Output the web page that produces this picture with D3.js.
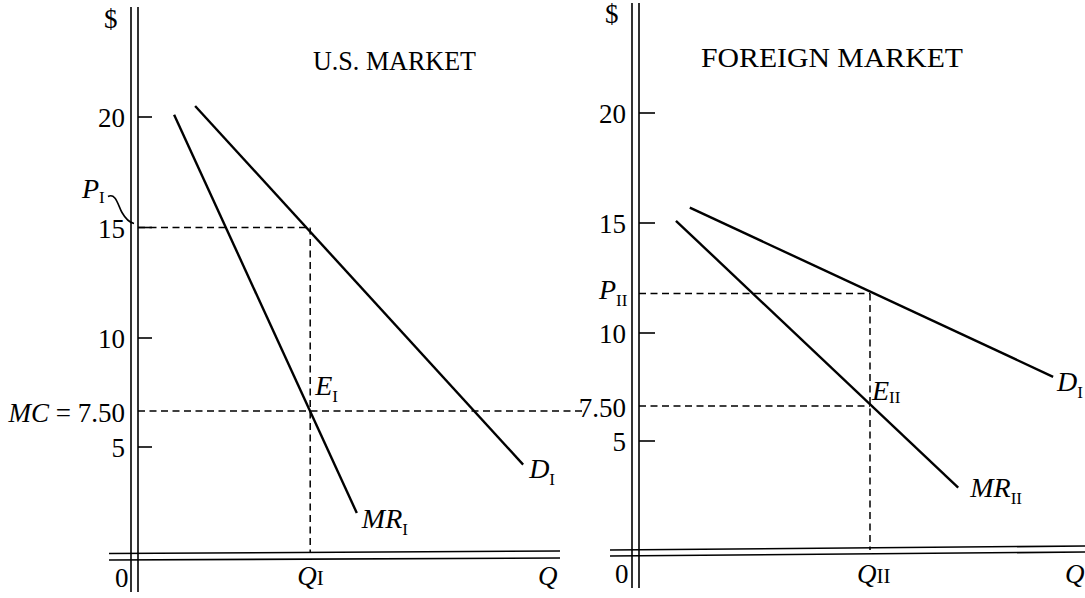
<!DOCTYPE html>
<html>
<head>
<meta charset="utf-8">
<script src="https://cdn.jsdelivr.net/npm/d3@7"></script>
<style>
  body { margin: 0; background: #fff; }
  svg { display: block; background: #fff; font-family: "Liberation Serif", "Times New Roman", serif; }
  .curve { fill: none; stroke: #000; stroke-width: 2.4; }
  .guide { fill: none; stroke: #000; stroke-width: 1.5; stroke-dasharray: 7 4.5; }
  .axis-line { stroke: #000; stroke-width: 1.6; fill: none; }
  text { fill: #000; }
</style>
</head>
<body>
<svg id="chart" width="1085" height="598"></svg>
<script>
// price ticks shared by both $ axes
const priceTicks = [5, 10, 15, 20];
const marginalCost = 7.5;

// U.S. market (I)
const usDemand = [{q: 1.36, p: 20.5}, {q: 9.17, p: 4.2}];
const usMarginalRevenue = [{q: 0.86, p: 20.1}, {q: 5.21, p: 2.0}];
const usQuantity = 4.1;
const usPrice = 15;

// foreign market (II)
const foreignDemand = [{q: 1.21, p: 15.7}, {q: 9.86, p: 8.5}];
const foreignMarginalRevenue = [{q: 0.88, p: 15.1}, {q: 7.6, p: 2.9}];
const foreignQuantity = 5.5;
const foreignPrice = 11.8;

class MarketPanel {

  /**
   * One market diagram: double axes, D and MR curves, dashed guides
   * @param {Object} _config layout
   * @param {Object} _data curves and equilibrium
   */
  constructor(_config, _data) {
    this.config = _config;
    this.data = _data;
    this.initVis();
  }

  initVis() {
    let vis = this;
    const c = vis.config;

    vis.g = d3.select('#chart').append('g').attr('class', 'panel');

    // the figure is not drawn to scale, so the price axis is piecewise
    vis.yScale = d3.scaleLinear()
      .domain([0, 5, 7.5, 10, 20])
      .range(c.yRange);

    vis.xScale = d3.scaleLinear()
      .domain([0, 10])
      .range(c.xRange);

    // double vertical axis
    [c.outerX, c.innerX].forEach(x => {
      vis.g.append('line').attr('class', 'axis-line')
        .attr('x1', x).attr('x2', x)
        .attr('y1', c.axisTop).attr('y2', c.axisBottom);
    });

    // double horizontal axis (a bit tilted in the scan)
    c.xAxisLines.forEach(l => {
      vis.g.append('line').attr('class', 'axis-line')
        .attr('x1', c.xAxisLeft).attr('x2', c.xAxisRight)
        .attr('y1', l[0]).attr('y2', l[1]);
    });

    // ticks + labels
    vis.g.selectAll('.tick')
      .data(priceTicks)
      .join('line')
        .attr('class', 'axis-line tick')
        .attr('x1', c.innerX).attr('x2', c.innerX + c.tickLen)
        .attr('y1', d => vis.yScale(d)).attr('y2', d => vis.yScale(d));

    vis.g.selectAll('.tick-label')
      .data(priceTicks)
      .join('text')
        .attr('class', 'tick-label')
        .attr('x', c.outerX - 6)
        .attr('y', d => vis.yScale(d) + 10)
        .attr('text-anchor', 'end')
        .attr('font-size', 27)
        .text(d => d);

    // dashed guides: price level, quantity, and MC line
    const d = vis.data;
    const xq = vis.xScale(d.quantity);
    const yp = vis.yScale(d.price);
    const ymc = vis.yScale(marginalCost);

    vis.g.append('line').attr('class', 'guide')
      .attr('x1', vis.xScale(0)).attr('x2', xq)
      .attr('y1', yp).attr('y2', yp);
    vis.g.append('line').attr('class', 'guide')
      .attr('x1', xq).attr('x2', xq)
      .attr('y1', yp).attr('y2', c.guideBottom);
    vis.g.append('line').attr('class', 'guide')
      .attr('x1', vis.xScale(0)).attr('x2', c.mcEnd != null ? c.mcEnd : xq)
      .attr('y1', ymc).attr('y2', ymc);

    // demand and marginal revenue
    const line = d3.line().x(p => vis.xScale(p.q)).y(p => vis.yScale(p.p));
    vis.g.append('path').attr('class', 'curve').attr('d', line(d.demand));
    vis.g.append('path').attr('class', 'curve').attr('d', line(d.mr));

    // text bits
    vis.g.append('text')
      .attr('x', c.dollar[0]).attr('y', c.dollar[1])
      .attr('font-size', 27).text('$');

    vis.g.append('text')
      .attr('x', c.title[0]).attr('y', c.title[1])
      .attr('font-size', 27)
      .attr('textLength', c.title[2]).attr('lengthAdjust', 'spacingAndGlyphs')
      .text(c.titleText);

    vis.g.append('text')
      .attr('x', c.zero[0]).attr('y', c.zero[1])
      .attr('font-size', 27).text('0');

    // MC label on the axis
    const mc = vis.g.append('text')
      .attr('x', c.outerX - 6).attr('y', ymc + 11)
      .attr('text-anchor', 'end').attr('font-size', 27);
    if (c.showMC) {
      mc.append('tspan').attr('font-style', 'italic').text('MC');
      mc.append('tspan').text(' = ');
    }
    mc.append('tspan').text('7.50');

    const dEnd = d.demand[d.demand.length - 1];
    const mrEnd = d.mr[d.mr.length - 1];

    vis.subLabel(xq + c.eOff[0], ymc + c.eOff[1], 'E', d.roman, c.eSub);
    vis.subLabel(vis.xScale(dEnd.q) + c.dOff[0], vis.yScale(dEnd.p) + c.dOff[1], 'D', c.dSubText, 7);
    vis.subLabel(vis.xScale(mrEnd.q) + c.mrOff[0], vis.yScale(mrEnd.p) + c.mrOff[1], 'MR', d.roman, 7);
    vis.subLabel(c.pPos[0], yp + c.pPos[1], 'P', d.roman, c.pSub);

    // quantity labels sit under the axis
    const ql = vis.g.append('text')
      .attr('x', xq - 13).attr('y', c.qBaseline).attr('font-size', 27);
    ql.append('tspan').attr('font-style', 'italic').text('Q');
    ql.append('tspan').attr('font-size', 21).text(d.roman);

    vis.g.append('text')
      .attr('x', c.qEnd).attr('y', c.qBaseline)
      .attr('font-size', 27).attr('font-style', 'italic').text('Q');

    // little squiggle from P_I down to 15
    if (c.brace) {
      vis.g.append('path').attr('class', 'axis-line')
        .attr('stroke-width', 1.4)
        .attr('d', `M${c.brace[0]},${yp + c.brace[1]} C${c.brace[0] + 8},${yp + c.brace[1] - 4} ${c.brace[0] + 10},${yp - 22} ${c.brace[0] + 14},${yp - 15} C${c.brace[0] + 18},${yp - 8} ${c.brace[0] + 21},${yp - 5} ${c.innerX - 4},${yp - 4}`);
    }
  }

  subLabel(x, y, main, sub, subDy) {
    let vis = this;
    const t = vis.g.append('text').attr('x', x).attr('y', y).attr('font-size', 28);
    t.append('tspan').attr('font-style', 'italic').text(main);
    t.append('tspan').attr('font-size', 17).attr('dy', subDy).text(sub);
    return t;
  }
}

new MarketPanel({
  outerX: 131, innerX: 138, axisTop: 7, axisBottom: 592,
  xRange: [138, 558],
  yRange: [557, 447, 411, 338, 117],
  xAxisLeft: 109, xAxisRight: 560,
  xAxisLines: [[553.5, 551], [560, 558]],
  tickLen: 14,
  guideBottom: 553,
  mcEnd: 582,
  showMC: true,
  dollar: [104, 28],
  title: [313, 70, 163],
  titleText: 'U.S. MARKET',
  zero: [115, 587],
  eOff: [5, -16], eSub: 7,
  dOff: [6, 13], dSubText: 'I',
  mrOff: [5, 15],
  pPos: [82, -30], pSub: 5,
  brace: [108, -31],
  qBaseline: 585, qEnd: 538
}, {
  demand: usDemand, mr: usMarginalRevenue,
  quantity: usQuantity, price: usPrice, roman: 'I'
});

new MarketPanel({
  outerX: 632, innerX: 639, axisTop: 3, axisBottom: 588,
  xRange: [639, 1059],
  yRange: [552, 441, 406, 333, 113],
  xAxisLeft: 610, xAxisRight: 1085,
  xAxisLines: [[550, 546], [556, 552]],
  tickLen: 16,
  guideBottom: 550,
  mcEnd: null,
  showMC: false,
  dollar: [605, 23],
  title: [701, 67, 262],
  titleText: 'FOREIGN MARKET',
  zero: [615, 583],
  eOff: [2, -6], eSub: 3,
  dOff: [4, 14], dSubText: 'I',
  mrOff: [12, 9],
  pPos: [599, 6], pSub: 7,
  brace: null,
  qBaseline: 583, qEnd: 1065
}, {
  demand: foreignDemand, mr: foreignMarginalRevenue,
  quantity: foreignQuantity, price: foreignPrice, roman: 'II'
});
</script>
</body>
</html>
